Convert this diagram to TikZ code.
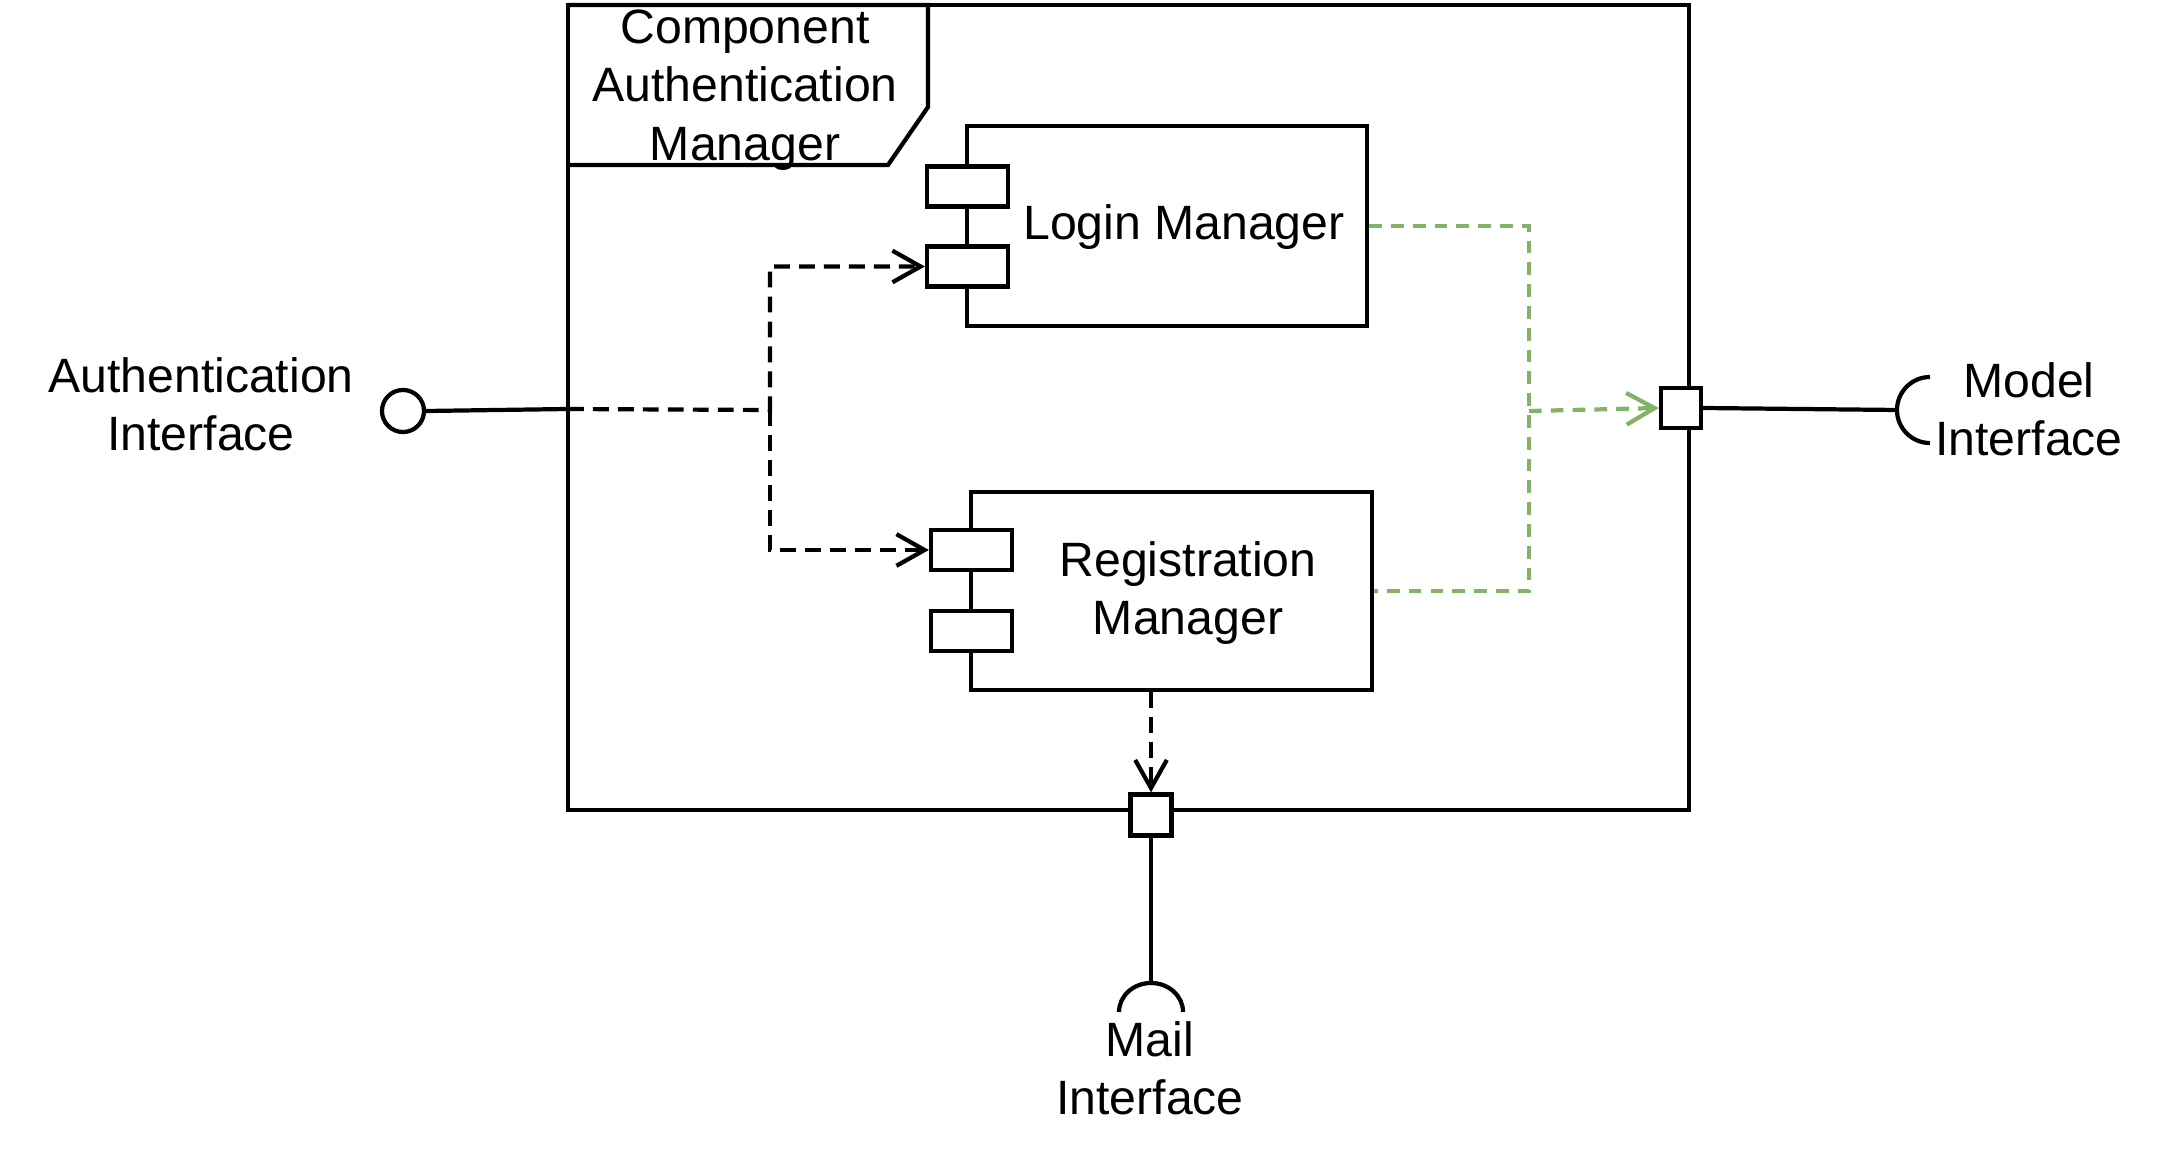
\documentclass[tikz,border=0pt]{standalone}
\usepackage{fontspec}
\setmainfont{Liberation Sans}
\usetikzlibrary{arrows.meta}
\definecolor{grn}{HTML}{82B366}
\begin{document}
\begin{tikzpicture}[x=0.01cm,y=-0.01cm,line width=1.2pt,
  box/.style={draw,fill=white,rectangle,inner sep=0pt},
  lbl/.style={font=\fontsize{13.7}{16.6}\selectfont,align=center,inner sep=0pt},
  dep/.style={dash pattern=on 4.5pt off 2.6pt,-{Straight Barb[length=8pt,width=9pt]}},
  gdep/.style={grn,dash pattern=on 3.6pt off 2.6pt},
  gdeparrow/.style={gdep,-{Straight Barb[length=8pt,width=9pt]}}]
\useasboundingbox (0,0) rectangle (2172,1152);
% outer frame
\node[box,minimum width=11.21cm,minimum height=8.05cm] (frame) at (1128.5,407.5) {};
\draw (568,5) coordinate (fA) -- (928,5) -- (928,107) -- (888,165) -- (568,165);
\node[lbl] (ftitle) at (745,90) {Component\\Authentication\\Manager};
% login manager
\node[box,minimum width=4cm,minimum height=2cm] (login) at (1167,226) {};
\node[box,minimum width=0.81cm,minimum height=0.40cm] (lp1) at (967.5,186.5) {};
\node[box,minimum width=0.81cm,minimum height=0.40cm] (lp2) at (967.5,266.5) {};
\node[lbl] (loginlbl) at (1184,227) {Login Manager};
% registration manager
\node[box,minimum width=4.01cm,minimum height=1.98cm] (reg) at (1171.5,591) {};
\node[box,minimum width=0.81cm,minimum height=0.40cm] (rp1) at (971.5,550) {};
\node[box,minimum width=0.81cm,minimum height=0.40cm] (rp2) at (971.5,631) {};
\node[lbl] (reglbl) at (1188,593) {Registration\\Manager};
% left provided interface
\node[draw,circle,minimum size=0.42cm,inner sep=0pt] (auth) at (403,411) {};
\coordinate (j1) at (568,409);
\coordinate (jm) at (770,410);
\draw (auth.east) -- (j1);
\draw[dep] (j1) -- (jm) |- (lp2.west);
\draw[dep] (jm) |- (rp1.west);
\node[lbl] (authlbl) at (201,404) {Authentication\\Interface};
% right port and model interface
\node[box,minimum size=0.40cm] (rport) at (1681,408) {};
\coordinate (g1) at (1529,226);
\coordinate (g2) at (1529,591);
\coordinate (g3) at (1529,411);
\draw[gdep] (login.east |- g1) -- (g1) -- (g2) -- (reg.east |- g2);
\draw[gdeparrow] (g3) -- (rport.west);
\coordinate (msock) at (1898,410);
\draw (rport.east) -- (msock);
\draw (1930,377) arc[start angle=90,end angle=270,radius=0.33cm];
\node[lbl] (modellbl) at (2029,409) {Model\\Interface};
% bottom port and mail interface
\node[box,minimum size=0.41cm] (bport) at (1151,815) {};
\draw[dep] (reg.south -| bport) -- (bport.north);
\coordinate (bsock) at (1151,983);
\draw (bport.south) -- (bsock);
\draw (1119,1012) arc[start angle=180,end angle=0,x radius=0.32cm,y radius=0.29cm];
\node[lbl] (maillbl) at (1150,1068) {Mail\\Interface};
\end{tikzpicture}
\end{document}
